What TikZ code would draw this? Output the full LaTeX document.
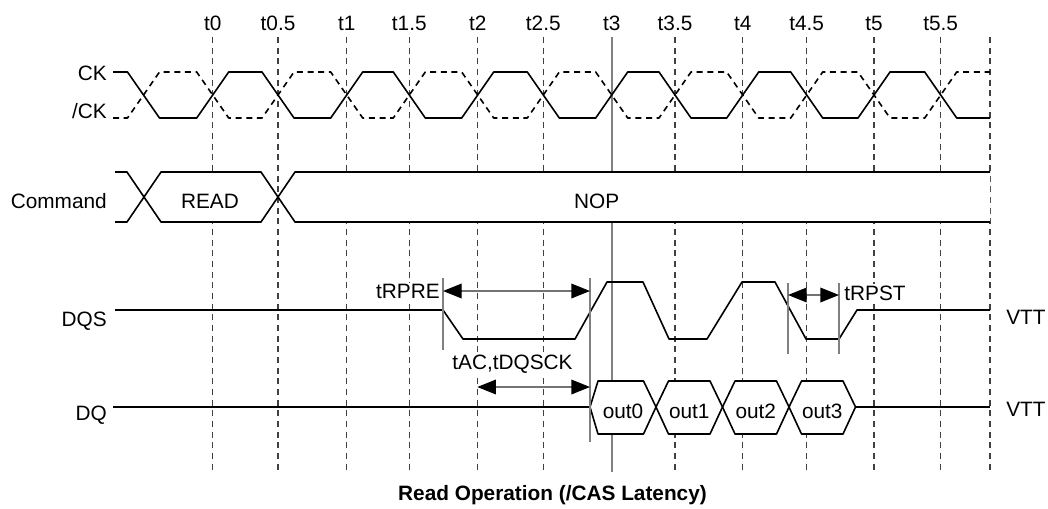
\documentclass[tikz,border=0pt]{standalone}
\usepackage{fontspec}
\setmainfont{Liberation Sans}
\usetikzlibrary{arrows.meta}

\tikzset{
    wave/.style={line width=1.2pt, line join=round},
    grid/.style={black!75, line width=0.8pt, dash pattern=on 4.5pt off 3.5pt},
    marker/.style={black!50, line width=1.4pt},
    dimtip/.tip={Triangle[length=14pt,width=11pt,color=black]},
    dim/.style={black!55, line width=1pt, dimtip-dimtip},
    hexbox/.style={wave, fill=white},
    lbl/.style={fill=white, inner sep=0.8pt}
}

\begin{document}
\begin{tikzpicture}[x=0.75pt,y=-0.75pt,
    every node/.style={font=\fontsize{15.6}{18}\selectfont, inner sep=0pt}]
        \useasboundingbox (0,0) rectangle (1048,508);
        % time grid
        \foreach \x/\t [count=\i] in {212.7/t0,278/t0.5,346.7/t1,409.3/t1.5,477.7/t2,543.3/t2.5,611.7/t3,675/t3.5,742.7/t4,806.7/t4.5,874/t5,940.7/t5.5}{
            \draw[grid] (\x,37) -- (\x,470);
            \node[anchor=base] (time\i) at (\x,30) {\t};
        }
        \draw[grid] (990,37) -- (990,470);
        \draw[marker] (611.7,37) -- (611.7,472);

        % CK and /CK
        \node[anchor=base east] (ck) at (107,80) {CK};
        \node[anchor=base east] (nck) at (107,118) {/CK};
        \draw[wave] (113,72) foreach \f/\r in {143.5/212.7,278/346.7,409.3/477.7,543.3/611.7,675/742.7,806.7/874}{
            -- ({\f-16},72) -- ({\f+16},118) -- ({\r-16},118) -- ({\r+16},72)} -- (924.7,72) -- (956.7,118) -- (990,118);
        \draw[wave, dash pattern=on 4.5pt off 3.5pt] (113,118) foreach \f/\r in {143.5/212.7,278/346.7,409.3/477.7,543.3/611.7,675/742.7,806.7/874}{
            -- ({\f-16},118) -- ({\f+16},72) -- ({\r-16},72) -- ({\r+16},118)} -- (924.7,118) -- (956.7,72) -- (990,72);

        % Command
        \fill[white] (144,197) -- (161,172) -- (261,172) -- (278,197) -- (261,222) -- (161,222) -- cycle;
        \fill[white] (278,197) -- (295,172) -- (990,172) -- (990,222) -- (295,222) -- cycle;
        \draw[wave] (115,172) -- (127,172) -- (161,222) -- (261,222) -- (295,172) -- (990,172);
        \draw[wave] (115,222) -- (127,222) -- (161,172) -- (261,172) -- (295,222) -- (990,222);
        \node[anchor=base east] (cmd) at (107,208) {Command};
        \node[anchor=base] (read) at (210,208) {READ};
        \node[anchor=base] (nop) at (596.7,208) {NOP};

        % DQS
        \node[anchor=base east] (dqs) at (107,326) {DQS};
        \draw[wave] (115,310) -- (443,310) -- (463,339) -- (575,339) -- (607,282) -- (643,282) -- (669,339) -- (707,339)
            -- (742,282) -- (775,282) -- (806,339) -- (839,339) -- (857,310) -- (990,310);
        \node[anchor=base west] (vttdqs) at (1006,324) {VTT};

        % DQ
        \node[anchor=base east] (dq) at (107,420) {DQ};
        \draw[wave] (113,407) -- (590,407);
        \draw[wave] (855.5,407) -- (990,407);
        \node[anchor=base west] (vttdq) at (1006,416) {VTT};
        \draw[hexbox] (590,407) -- (598,381) -- (643.5,381) -- (656,407) -- (643.5,434) -- (598,434) -- cycle;
        \foreach \a in {656,722.5,789}
            \draw[hexbox] (\a,407) -- ({\a+12.5},381) -- ({\a+54},381) -- ({\a+66.5},407) -- ({\a+54},434) -- ({\a+12.5},434) -- cycle;
        \foreach \a/\s in {623/out0,689.3/out1,755.8/out2,822.3/out3}
            \node[anchor=base] (\s) at (\a,418) {\s};

        % timing parameters
        \node[anchor=base east, lbl] (trpre) at (441,298) {tRPRE};
        \node[anchor=base, lbl] (tac) at (512.5,369) {tAC,tDQSCK};
        \node[anchor=base west, lbl] (trpst) at (843,300) {tRPST};
        \coordinate (rpretop) at (443,278);
        \coordinate (rprebot) at (443,350);
        \coordinate (acctop) at (590,278);
        \coordinate (accbot) at (590,442);
        \coordinate (rpsttopl) at (788,283);
        \coordinate (rpstbotl) at (788,354);
        \coordinate (rpsttopr) at (839,283);
        \coordinate (rpstbotr) at (839,354);
        \draw[marker] (rpretop) -- (rprebot);
        \draw[marker] (acctop) -- (accbot);
        \draw[marker] (rpsttopl) -- (rpstbotl);
        \draw[marker] (rpsttopr) -- (rpstbotr);
        \coordinate (rpreL) at (443,291);
        \coordinate (rpreR) at (590,291);
        \coordinate (acL) at (477.3,387);
        \coordinate (acR) at (590,387);
        \coordinate (rpstL) at (788,295);
        \coordinate (rpstR) at (839,295);
        \draw[dim] (rpreL) -- (rpreR);
        \draw[dim] (acL) -- (acR);
        \draw[dim] (rpstL) -- (rpstR);

        \node[anchor=base, font=\fontsize{15.6}{18}\selectfont\bfseries] (title) at (552.5,500) {Read Operation (/CAS Latency)};
    \end{tikzpicture}
\end{document}
